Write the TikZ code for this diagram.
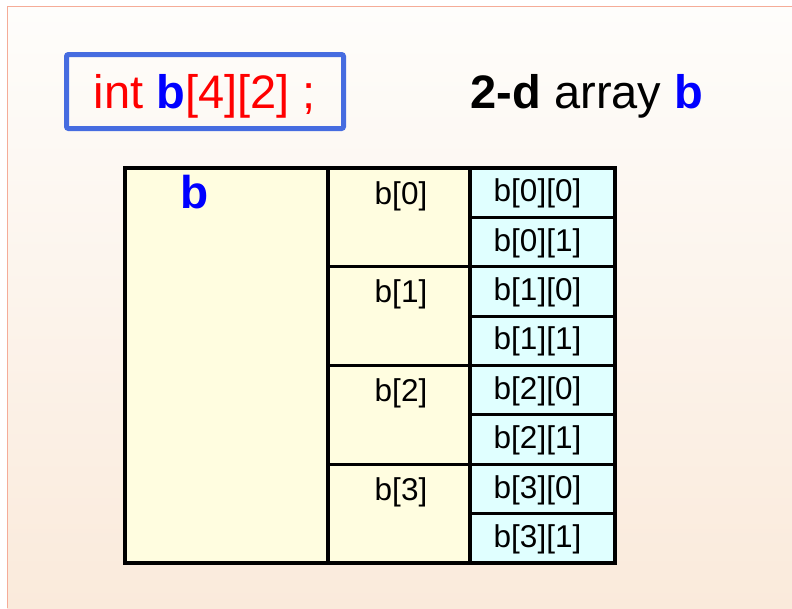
\documentclass[tikz,border=0pt]{standalone}
\usepackage{fontspec}
\setmainfont{Liberation Sans}
\definecolor{slidetop}{RGB}{254, 253, 251}
\definecolor{slidebottom}{RGB}{250, 234, 219}
\definecolor{slideedge}{RGB}{245, 172, 152}
\definecolor{declblue}{RGB}{70, 108, 224}
\definecolor{txtred}{RGB}{255, 0, 0}
\definecolor{txtblue}{RGB}{0, 0, 255}
\definecolor{arryellow}{RGB}{255, 253, 224}
\definecolor{arrcyan}{RGB}{224, 255, 255}

\begin{document}
\begin{tikzpicture}[x=1pt, y=-1pt,
		bigtext/.style={font=\fontsize{47}{52}\selectfont, inner sep=0pt},
		celltext/.style={font=\fontsize{31.5}{35}\selectfont, inner sep=0pt},
		box/.style={draw=black, line width=3.2pt, inner sep=0pt, outer sep=0pt, anchor=north west},
		whole/.style={box, fill=arryellow, minimum width=203pt, minimum height=395pt},
		rowbox/.style={box, fill=arryellow, minimum width=142pt, minimum height=98.75pt,
			label={[celltext, anchor=north, xshift=2pt, yshift=-13pt]north:{#1}}},
		elem/.style={box, fill=arrcyan, minimum width=145pt, minimum height=49.375pt,
			label={[celltext, xshift=-5pt, yshift=-1pt]center:{#1}}}]
			% slide background
			\useasboundingbox (0, 0) rectangle (792, 608);
			\fill [white] (0, 0) rectangle (792, 608);
			\shade [top color=slidetop, bottom color=slidebottom] (7, 6) rectangle (792, 608);
			\draw [slideedge, line width=1pt] (7, 608) -- (7, 6) -- (792, 6);

			% declaration and caption
			\node [bigtext, draw=declblue, line width=5pt, rounded corners=2pt, minimum width=277pt,
				minimum height=74pt, text height=33pt, text depth=0pt] (decl) at (205, 91.5)
				{\textcolor{txtred}{int \textcolor{txtblue}{\textbf{b}}[4][2] ;}};
			\node [bigtext, anchor=base] (caption) at (587, 108) {\textbf{2-d} array \textcolor{txtblue}{\textbf{b}}};

			% the array and its rows
			\node [whole] (b) at (125, 168) {};
			\node [bigtext, font=\fontsize{46}{50}\selectfont, anchor=base, text=txtblue] (bname) at (195, 208) {\textbf{b}};
			\node [rowbox={b[0]}] (b0) at (328, 168) {};
			\node [rowbox={b[1]}] (b1) at (328, 266.75) {};
			\node [rowbox={b[2]}] (b2) at (328, 365.5) {};
			\node [rowbox={b[3]}] (b3) at (328, 464.25) {};

			% the elements
			\node [elem={b[0][0]}] (b00) at (470, 168) {};
			\node [elem={b[0][1]}] (b01) at (470, 217.375) {};
			\node [elem={b[1][0]}] (b10) at (470, 266.75) {};
			\node [elem={b[1][1]}] (b11) at (470, 316.125) {};
			\node [elem={b[2][0]}] (b20) at (470, 365.5) {};
			\node [elem={b[2][1]}] (b21) at (470, 414.875) {};
			\node [elem={b[3][0]}] (b30) at (470, 464.25) {};
			\node [elem={b[3][1]}] (b31) at (470, 513.625) {};
		\end{tikzpicture}
\end{document}
